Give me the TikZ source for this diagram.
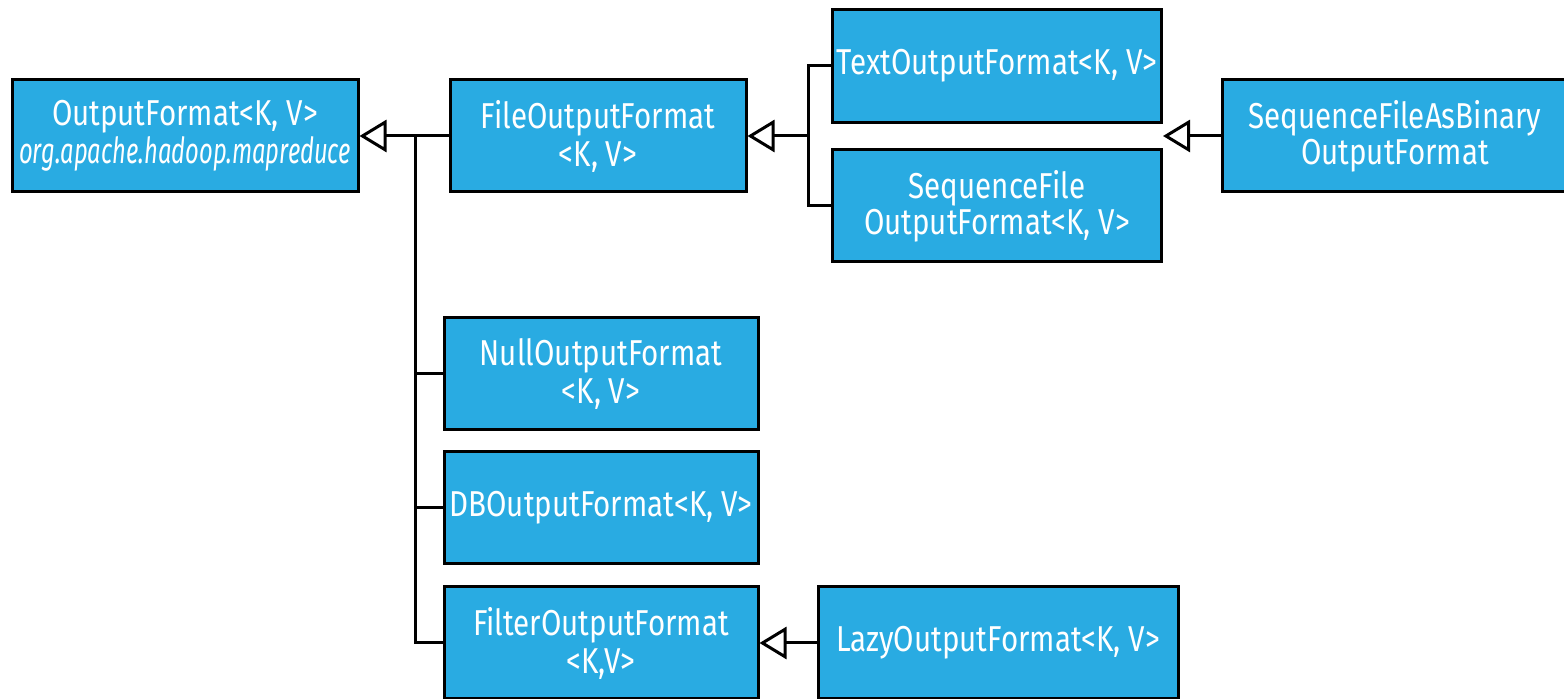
\documentclass[tikz,border=0pt]{standalone}
\usepackage{fontspec}
\setmainfont{Fira Sans}[FakeStretch=0.82]
\newfontface\pkgfont{Fira Sans Italic}[FakeStretch=0.66]
\usetikzlibrary{arrows.meta,positioning}
\definecolor{boxblue}{RGB}{41,171,226}

\begin{document}
\begin{tikzpicture}[x=0.5pt, y=-0.5pt, thick,
  cls/.style={rectangle, draw=black, line width=1.5pt, fill=boxblue, text=white,
    align=center, minimum height=56pt, inner sep=1pt,
    font=\fontsize{18}{19}\selectfont},
  inherit/.style={-{Triangle[open, fill=white, length=13.5pt, width=16pt]}, line width=1.5pt}]

  \useasboundingbox (0,0) rectangle (1564,699);

  \node[cls, minimum width=173pt] at (185,136) (of)
  {OutputFormat<K, V>\\{\pkgfont org.apache.hadoop.mapreduce}};
  \node[cls, minimum width=148pt, right of = of, node distance = 206.5pt] (fof)
  {FileOutputFormat\\<K, V>};

  \node[cls, minimum width=164.5pt, minimum height=56.5pt, right of = fof, node distance = 199.5pt, yshift = 35pt]
  (tof) {TextOutputFormat<K, V>};
  \node[cls, minimum width=164.5pt, below of = tof, node distance = 70pt] (sfof)
  {SequenceFile\\[-1pt]OutputFormat<K, V>};
  \node[cls, minimum width=173pt, right of = fof, node distance = 398.5pt] (sfab)
  {SequenceFileAsBinary\\[-1pt]OutputFormat};

  \node[cls, minimum width=157pt, below of = fof, node distance = 119pt, xshift = 1.5pt] (nof)
  {NullOutputFormat\\<K, V>};
  \node[cls, minimum width=157pt, below of = nof, node distance = 67pt] (dbof)
  {DBOutputFormat<K, V>};
  \node[cls, minimum width=157pt, below of = dbof, node distance = 67.5pt] (filtof)
  {FilterOutputFormat\\<K,V>};
  \node[cls, minimum width=180pt, right of = filtof, node distance = 198.5pt] (lof)
  {LazyOutputFormat<K, V>};

  % joints of the two trees
  \coordinate (mainjoin) at (415,136);
  \coordinate (filejoin) at (808,136);
  \coordinate (seqgap) at (tof.east |- sfab.west);

  \draw[inherit] (fof.west) -- (of.east);
  \draw[line width=1.5pt] (nof.west) -| (mainjoin);
  \draw[line width=1.5pt] (dbof.west) -| (mainjoin);
  \draw[line width=1.5pt] (filtof.west) -| (mainjoin);

  \draw[inherit] (filejoin) -- (fof.east);
  \draw[line width=1.5pt] (tof.west) -| (filejoin);
  \draw[line width=1.5pt] (sfof.west) -| (filejoin);

  \draw[inherit] (sfab.west) -- (seqgap);
  \draw[inherit] (lof.west) -- (filtof.east);

\end{tikzpicture}
\end{document}
